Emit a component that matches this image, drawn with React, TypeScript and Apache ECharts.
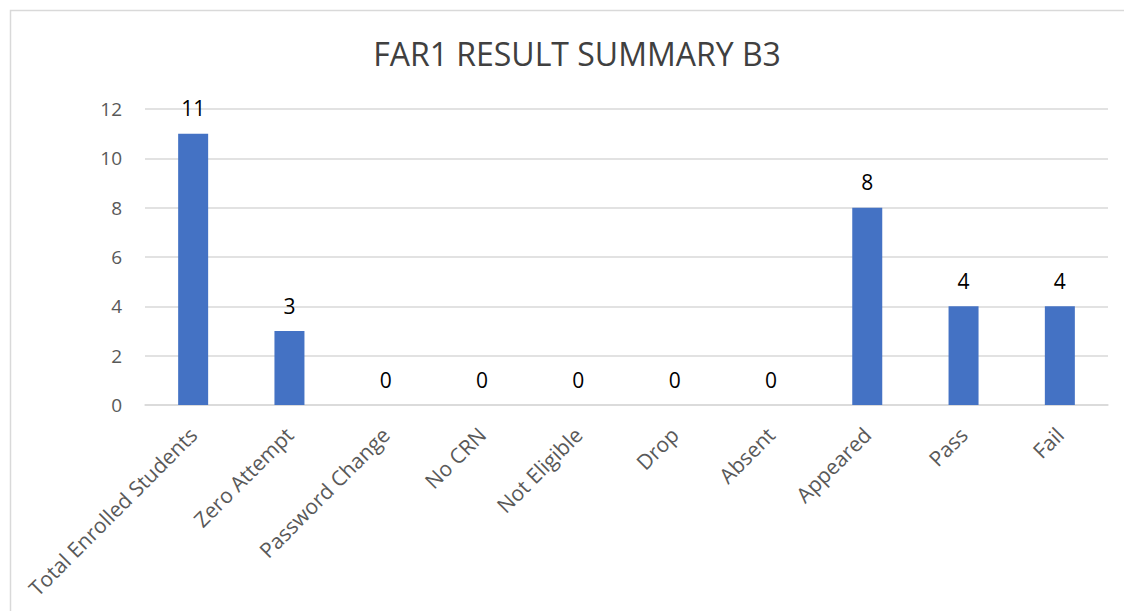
import React, { useEffect, useRef } from "react";
import * as echarts from "echarts";

const categories = [
  "Total Enrolled Students",
  "Zero Attempt",
  "Password Change",
  "No CRN",
  "Not Eligible",
  "Drop",
  "Absent",
  "Appeared",
  "Pass",
  "Fail",
];
const values = [11, 3, 0, 0, 0, 0, 0, 8, 4, 4];
const titleText = "FAR1 RESULT SUMMARY B3";

const FONT = "'Open Sans', 'Liberation Sans', sans-serif";

export default function App() {
  const ref = useRef<HTMLDivElement>(null);
  useEffect(() => {
    if (!ref.current) return;
    const chart = echarts.init(ref.current, undefined, { renderer: "svg" });
    chart.setOption({
      animation: false,
      backgroundColor: "#ffffff",
      graphic: [
        {
          type: "rect",
          shape: { x: 10.5, y: 10.5, width: 1200, height: 700 },
          style: { fill: "none", stroke: "#d9d9d9", lineWidth: 1.5 },
          silent: true,
        },
      ],
      title: {
        text: titleText,
        left: 572,
        top: 32,
        textAlign: "center",
        textStyle: {
          fontFamily: FONT,
          fontSize: 32,
          fontWeight: "normal",
          color: "#404040",
        },
      },
      grid: { left: 145, right: 16, top: 109, bottom: 206, containLabel: false },
      xAxis: {
        type: "category",
        data: categories,
        axisLine: { lineStyle: { color: "#d9d9d9", width: 1.5 } },
        axisTick: { show: false },
        axisLabel: {
          rotate: 45,
          interval: 0,
          margin: 26,
          fontFamily: FONT,
          fontSize: 21,
          color: "#595959",
        },
      },
      yAxis: {
        type: "value",
        min: 0,
        max: 12,
        interval: 2,
        axisLine: { show: false },
        axisTick: { show: false },
        splitLine: { lineStyle: { color: "#d9d9d9", width: 1.5 } },
        axisLabel: {
          margin: 23,
          fontFamily: FONT,
          fontSize: 19,
          color: "#595959",
        },
      },
      series: [
        {
          type: "bar",
          data: values,
          barWidth: 30,
          itemStyle: { color: "#4472c4" },
          label: {
            show: true,
            position: "top",
            distance: 15,
            fontFamily: FONT,
            fontSize: 21,
            color: "#000000",
          },
        },
      ],
    });
    return () => chart.dispose();
  }, []);
  return (
    <div
      ref={ref}
      style={{ position: "fixed", left: 0, top: 0, width: 1124, height: 611 }}
    />
  );
}
